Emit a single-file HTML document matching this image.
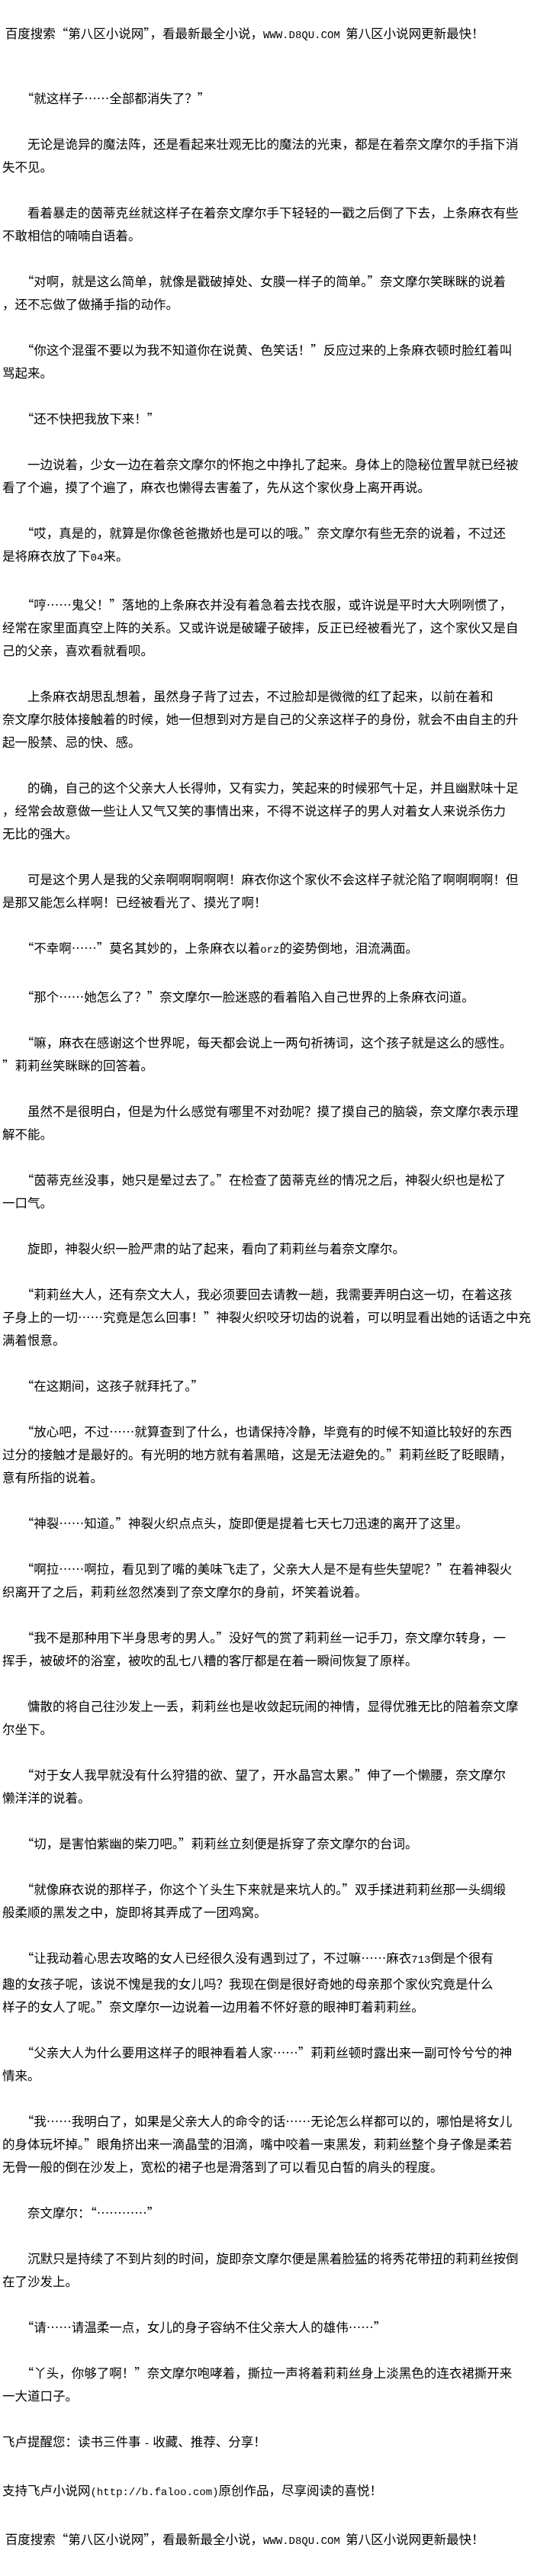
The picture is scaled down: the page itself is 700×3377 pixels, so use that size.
<!DOCTYPE html>
<html lang="zh-CN">
<head>
<meta charset="utf-8">
<style>
html,body{margin:0;padding:0;background:#fff;}
body{width:700px;height:3350px;position:relative;overflow:hidden;color:#000;
font-family:"Noto Sans CJK SC","WenQuanYi Zen Hei","Liberation Sans",sans-serif;font-size:16.5px;}
#hdr{position:absolute;left:3px;top:28px;line-height:30px;white-space:nowrap;}
#main{position:absolute;left:3px;top:113px;line-height:30px;white-space:nowrap;}
#main p{margin:0 0 30px 0;}
.m{font-family:"Liberation Mono",monospace;font-size:14px;}
</style>
</head>
<body>
<div id="hdr">&nbsp;百度搜索“第八区小说网”，看最新最全小说，<span class="m">WWW.D8QU.COM</span>&nbsp;&nbsp;第八区小说网更新最快！</div>
<div id="main">
<p>　　“就这样子……全部都消失了？”</p>
<p>　　无论是诡异的魔法阵，还是看起来壮观无比的魔法的光束，都是在着奈文摩尔的手指下消<br>失不见。</p>
<p>　　看着暴走的茵蒂克丝就这样子在着奈文摩尔手下轻轻的一戳之后倒了下去，上条麻衣有些<br>不敢相信的喃喃自语着。</p>
<p>　　“对啊，就是这么简单，就像是戳破掉处、女膜一样子的简单。”奈文摩尔笑眯眯的说着<br>，还不忘做了做捅手指的动作。</p>
<p>　　“你这个混蛋不要以为我不知道你在说黄、色笑话！”反应过来的上条麻衣顿时脸红着叫<br>骂起来。</p>
<p>　　“还不快把我放下来！”</p>
<p>　　一边说着，少女一边在着奈文摩尔的怀抱之中挣扎了起来。身体上的隐秘位置早就已经被<br>看了个遍，摸了个遍了，麻衣也懒得去害羞了，先从这个家伙身上离开再说。</p>
<p>　　“哎，真是的，就算是你像爸爸撒娇也是可以的哦。”奈文摩尔有些无奈的说着，不过还<br>是将麻衣放了下<span class="m">04</span>来。</p>
<p>　　“哼……鬼父！”落地的上条麻衣并没有着急着去找衣服，或许说是平时大大咧咧惯了，<br>经常在家里面真空上阵的关系。又或许说是破罐子破摔，反正已经被看光了，这个家伙又是自<br>己的父亲，喜欢看就看呗。</p>
<p>　　上条麻衣胡思乱想着，虽然身子背了过去，不过脸却是微微的红了起来，以前在着和<br>奈文摩尔肢体接触着的时候，她一但想到对方是自己的父亲这样子的身份，就会不由自主的升<br>起一股禁、忌的快、感。</p>
<p>　　的确，自己的这个父亲大人长得帅，又有实力，笑起来的时候邪气十足，并且幽默味十足<br>，经常会故意做一些让人又气又笑的事情出来，不得不说这样子的男人对着女人来说杀伤力<br>无比的强大。</p>
<p>　　可是这个男人是我的父亲啊啊啊啊啊！麻衣你这个家伙不会这样子就沦陷了啊啊啊啊！但<br>是那又能怎么样啊！已经被看光了、摸光了啊！</p>
<p>　　“不幸啊……”莫名其妙的，上条麻衣以着<span class="m">orz</span>的姿势倒地，泪流满面。</p>
<p>　　“那个……她怎么了？”奈文摩尔一脸迷惑的看着陷入自己世界的上条麻衣问道。</p>
<p>　　“嘛，麻衣在感谢这个世界呢，每天都会说上一两句祈祷词，这个孩子就是这么的感性。<br>”莉莉丝笑眯眯的回答着。</p>
<p>　　虽然不是很明白，但是为什么感觉有哪里不对劲呢？摸了摸自己的脑袋，奈文摩尔表示理<br>解不能。</p>
<p>　　“茵蒂克丝没事，她只是晕过去了。”在检查了茵蒂克丝的情况之后，神裂火织也是松了<br>一口气。</p>
<p>　　旋即，神裂火织一脸严肃的站了起来，看向了莉莉丝与着奈文摩尔。</p>
<p>　　“莉莉丝大人，还有奈文大人，我必须要回去请教一趟，我需要弄明白这一切，在着这孩<br>子身上的一切……究竟是怎么回事！”神裂火织咬牙切齿的说着，可以明显看出她的话语之中充<br>满着恨意。</p>
<p>　　“在这期间，这孩子就拜托了。”</p>
<p>　　“放心吧，不过……就算查到了什么，也请保持冷静，毕竟有的时候不知道比较好的东西<br>过分的接触才是最好的。有光明的地方就有着黑暗，这是无法避免的。”莉莉丝眨了眨眼睛，<br>意有所指的说着。</p>
<p>　　“神裂……知道。”神裂火织点点头，旋即便是提着七天七刀迅速的离开了这里。</p>
<p>　　“啊拉……啊拉，看见到了嘴的美味飞走了，父亲大人是不是有些失望呢？”在着神裂火<br>织离开了之后，莉莉丝忽然凑到了奈文摩尔的身前，坏笑着说着。</p>
<p>　　“我不是那种用下半身思考的男人。”没好气的赏了莉莉丝一记手刀，奈文摩尔转身，一<br>挥手，被破坏的浴室，被吹的乱七八糟的客厅都是在着一瞬间恢复了原样。</p>
<p>　　慵散的将自己往沙发上一丢，莉莉丝也是收敛起玩闹的神情，显得优雅无比的陪着奈文摩<br>尔坐下。</p>
<p>　　“对于女人我早就没有什么狩猎的欲、望了，开水晶宫太累。”伸了一个懒腰，奈文摩尔<br>懒洋洋的说着。</p>
<p>　　“切，是害怕紫幽的柴刀吧。”莉莉丝立刻便是拆穿了奈文摩尔的台词。</p>
<p>　　“就像麻衣说的那样子，你这个丫头生下来就是来坑人的。”双手揉进莉莉丝那一头绸缎<br>般柔顺的黑发之中，旋即将其弄成了一团鸡窝。</p>
<p>　　“让我动着心思去攻略的女人已经很久没有遇到过了，不过嘛……麻衣<span class="m">713</span>倒是个很有<br>趣的女孩子呢，该说不愧是我的女儿吗？我现在倒是很好奇她的母亲那个家伙究竟是什么<br>样子的女人了呢。”奈文摩尔一边说着一边用着不怀好意的眼神盯着莉莉丝。</p>
<p>　　“父亲大人为什么要用这样子的眼神看着人家……”莉莉丝顿时露出来一副可怜兮兮的神<br>情来。</p>
<p>　　“我……我明白了，如果是父亲大人的命令的话……无论怎么样都可以的，哪怕是将女儿<br>的身体玩坏掉。”眼角挤出来一滴晶莹的泪滴，嘴中咬着一束黑发，莉莉丝整个身子像是柔若<br>无骨一般的倒在沙发上，宽松的裙子也是滑落到了可以看见白皙的肩头的程度。</p>
<p>　　奈文摩尔：“…………”</p>
<p>　　沉默只是持续了不到片刻的时间，旋即奈文摩尔便是黑着脸猛的将秀花带扭的莉莉丝按倒<br>在了沙发上。</p>
<p>　　“请……请温柔一点，女儿的身子容纳不住父亲大人的雄伟……”</p>
<p>　　“丫头，你够了啊！”奈文摩尔咆哮着，撕拉一声将着莉莉丝身上淡黑色的连衣裙撕开来<br>一大道口子。</p>
<p>飞卢提醒您：读书三件事 <span class="m">-</span> 收藏、推荐、分享！</p>
<p>支持飞卢小说网<span class="m">(http://b.faloo.com)</span>原创作品，尽享阅读的喜悦！</p>
<p>&nbsp;百度搜索“第八区小说网”，看最新最全小说，<span class="m">WWW.D8QU.COM</span>&nbsp;&nbsp;第八区小说网更新最快！</p>
</div>
</body>
</html>
